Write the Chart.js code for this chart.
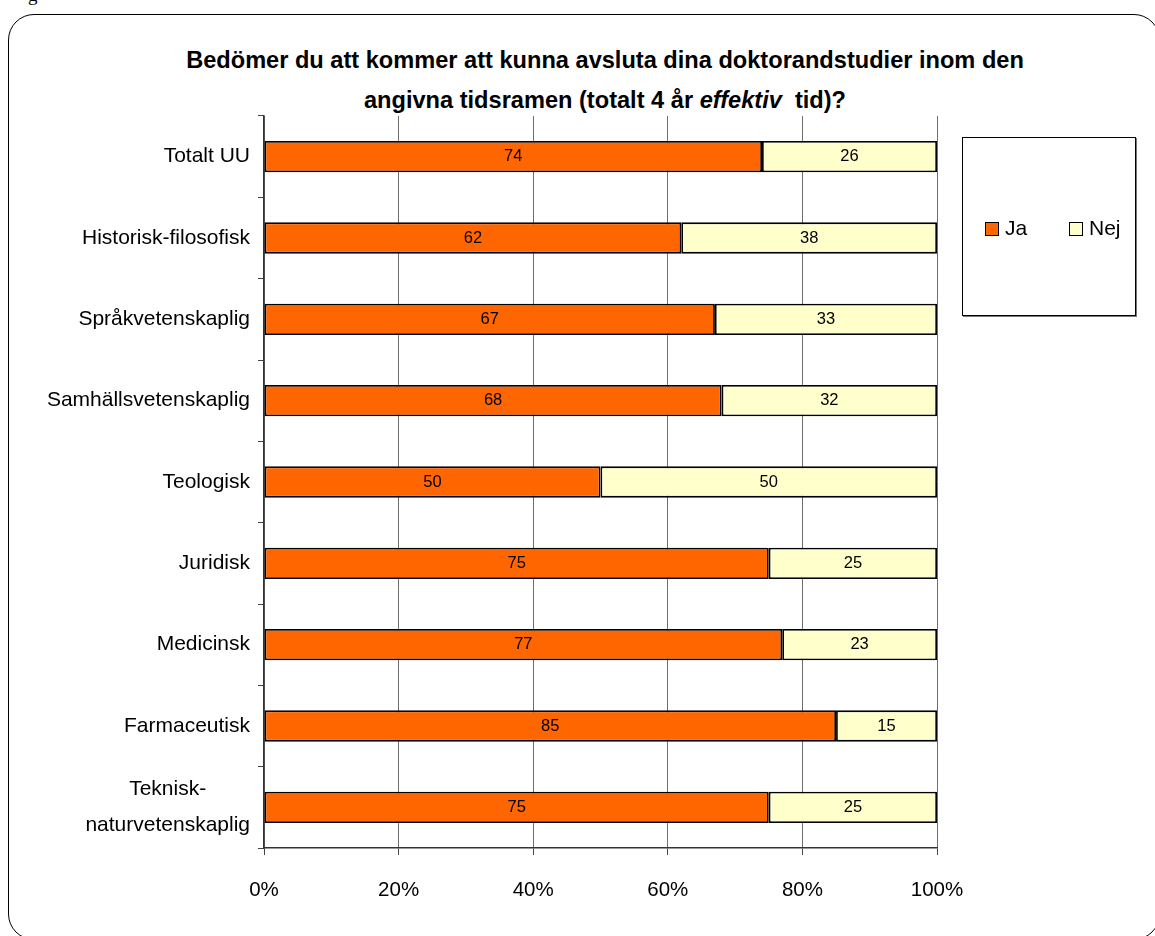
<!DOCTYPE html>
<html>
<head>
<meta charset="utf-8">
<script src="https://cdn.jsdelivr.net/npm/chart.js@4.4.1/dist/chart.umd.min.js"></script>
<style>
  html, body { margin: 0; padding: 0; background: #fff; }
  body { width: 1155px; height: 936px; position: relative; overflow: hidden; font-family: "Liberation Sans", Arial, sans-serif; }
  #frame { position: absolute; left: 8px; top: 14px; width: 1152px; height: 926px; border: 1.5px solid #000; border-radius: 26px; box-sizing: border-box; }
  #frag { position: absolute; left: 28px; top: -15px; font-family: "Liberation Serif", "Times New Roman", serif; font-size: 19px; line-height: 19px; color: #000; }
  #title { position: absolute; left: 0; width: 1210px; top: 40px; text-align: center; font-weight: bold; font-size: 23.6px; line-height: 40px; color: #000; }
  #wrap { position: absolute; left: 0; top: 0; width: 1155px; height: 936px; }
  #legend { position: absolute; left: 962px; top: 137px; width: 174px; height: 179px; border: 1px solid #000; box-shadow: 1px 1px 0 #777; background: #fff; box-sizing: border-box; }
  .li { position: absolute; top: 78px; font-size: 21px; line-height: 24px; height: 24px; color: #000; }
  .li span.sw { position: absolute; left: 0; top: 6px; width: 14px; height: 14px; border: 1px solid #000; box-sizing: border-box; }
  .li span.tx { position: absolute; left: 20px; top: 0; white-space: nowrap; }
</style>
</head>
<body>
<div id="frame"></div>
<div id="frag">g</div>
<div id="title">Bedömer du att kommer att kunna avsluta dina doktorandstudier inom den<br>angivna tidsramen (totalt 4 år <i>effektiv</i>&nbsp; tid)?</div>
<div id="wrap"><canvas id="c" width="1155" height="936"></canvas></div>
<div id="legend"></div>
<script>
// ---- data ----
const categories = [
  "Totalt UU",
  "Historisk-filosofisk",
  "Språkvetenskaplig",
  "Samhällsvetenskaplig",
  "Teologisk",
  "Juridisk",
  "Medicinsk",
  "Farmaceutisk",
  ["Teknisk-", "naturvetenskaplig"]
];
const seriesNames = ["Ja", "Nej"];
const jaValues  = [74, 62, 67, 68, 50, 75, 77, 85, 75];
const nejValues = [26, 38, 33, 32, 50, 25, 23, 15, 25];
const xTickValues = [0, 20, 40, 60, 80, 100];
const seriesColors = ["#FF6600", "#FFFFCC"];

// ---- legend (HTML) ----
const legendEl = document.getElementById('legend');
const legendX = [22, 106];
seriesNames.forEach((n, i) => {
  const d = document.createElement('div');
  d.className = 'li';
  d.style.left = legendX[i] + 'px';
  d.innerHTML = '<span class="sw" style="background:' + seriesColors[i] + '"></span><span class="tx">' + n + '</span>';
  legendEl.appendChild(d);
});

// ---- plugins ----
const valueLabels = {
  id: 'valueLabels',
  afterDatasetsDraw(chart) {
    const ctx = chart.ctx;
    ctx.save();
    ctx.font = '16.5px "Liberation Sans", Arial, sans-serif';
    ctx.fillStyle = '#000';
    ctx.textAlign = 'center';
    ctx.textBaseline = 'middle';
    chart.data.datasets.forEach((ds, di) => {
      const meta = chart.getDatasetMeta(di);
      meta.data.forEach((bar, i) => {
        const x = (bar.x + bar.base) / 2;
        ctx.fillText(String(ds.data[i]), x, bar.y);
      });
    });
    ctx.restore();
  }
};

const yLabels = {
  id: 'yLabels',
  afterDraw(chart) {
    const ctx = chart.ctx;
    const ys = chart.scales.y;
    ctx.save();
    ctx.font = '21px "Liberation Sans", Arial, sans-serif';
    ctx.fillStyle = '#000';
    ctx.textBaseline = 'middle';
    ctx.textAlign = 'center';
    const rightEdge = 250;
    const lineH = 36;
    categories.forEach((lab, i) => {
      const lines = Array.isArray(lab) ? lab : [lab];
      const w = Math.max(...lines.map(l => ctx.measureText(l).width));
      const cx = rightEdge - w / 2;
      const yc = ys.getPixelForValue(i);
      const y0 = yc - (lines.length - 1) * lineH / 2;
      lines.forEach((l, k) => ctx.fillText(l, cx, y0 + k * lineH));
    });
    ctx.restore();
  }
};

// ---- chart ----
const ctx = document.getElementById('c').getContext('2d');
new Chart(ctx, {
  type: 'bar',
  data: {
    labels: categories,
    datasets: [
      { label: seriesNames[0], data: jaValues, backgroundColor: seriesColors[0], borderColor: '#000', borderWidth: 1.8, borderSkipped: false, barPercentage: 0.385, categoryPercentage: 1.0 },
      { label: seriesNames[1], data: nejValues, backgroundColor: seriesColors[1], borderColor: '#000', borderWidth: 1.8, borderSkipped: false, barPercentage: 0.385, categoryPercentage: 1.0 }
    ]
  },
  options: {
    indexAxis: 'y',
    responsive: false,
    animation: false,
    maintainAspectRatio: false,
    layout: { padding: { left: 0, right: 218, top: 116, bottom: 0 } },
    plugins: { legend: { display: false }, title: { display: false }, tooltip: { enabled: false } },
    scales: {
      x: {
        stacked: true,
        min: 0, max: 100,
        afterBuildTicks(scale) { scale.ticks = xTickValues.map(v => ({ value: v })); },
        afterFit(scale) { scale.height = 88; },
        ticks: {
          callback: v => v + '%',
          color: '#000',
          font: { family: '"Liberation Sans", Arial, sans-serif', size: 20.5 },
          padding: 23,
          maxRotation: 0
        },
        grid: { color: '#6e6e6e', lineWidth: 1, drawTicks: true, tickLength: 7, tickColor: '#444' },
        border: { display: true, color: '#333', width: 1.5 }
      },
      y: {
        stacked: true,
        offset: true,
        afterFit(scale) { scale.width = 264; },
        ticks: { display: false },
        grid: { offset: true, drawOnChartArea: false, drawTicks: true, tickLength: 6, color: '#444', lineWidth: 1 },
        border: { display: true, color: '#333', width: 1.5 }
      }
    }
  },
  plugins: [valueLabels, yLabels]
});
</script>
</body>
</html>
